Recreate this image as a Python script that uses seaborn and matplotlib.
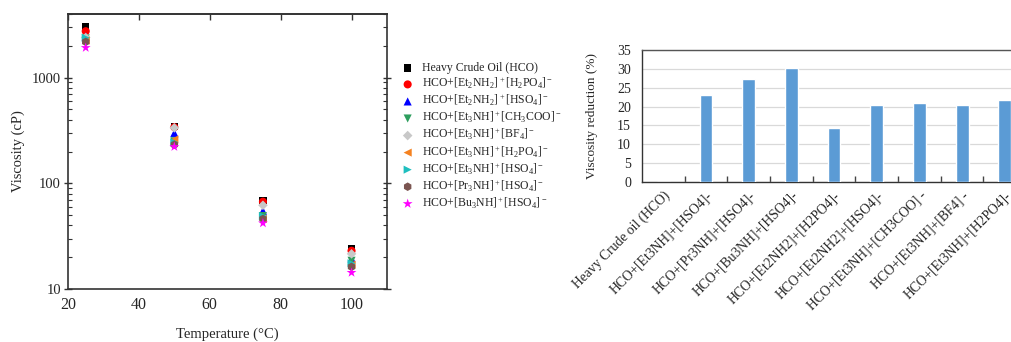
import numpy as np
import pandas as pd
import matplotlib
matplotlib.use("Agg")
import matplotlib.pyplot as plt
from matplotlib.ticker import LogLocator, NullFormatter, FixedLocator
import seaborn as sns

# ---------------- data ----------------
temperatures = [25, 50, 75, 100]

series_labels = [
    "Heavy Crude Oil (HCO)",
    r"HCO+[Et$_2$NH$_2$]$^+$[H$_2$PO$_4$]$^-$",
    r"HCO+[Et$_2$NH$_2$]$^+$[HSO$_4$]$^-$",
    r"HCO+[Et$_3$NH]$^+$[CH$_3$COO]$^-$",
    r"HCO+[Et$_3$NH]$^+$[BF$_4$]$^-$",
    r"HCO+[Et$_3$NH]$^+$[H$_2$PO$_4$]$^-$",
    r"HCO+[Et$_3$NH]$^+$[HSO$_4$]$^-$",
    r"HCO+[Pr$_3$NH]$^+$[HSO$_4$]$^-$",
    r"HCO+[Bu$_3$NH]$^+$[HSO$_4$]$^-$",
]

visc_hco          = [3050, 345, 69, 24]
visc_et2nh2_h2po4 = [2750, 340, 67, 23]
visc_et2nh2_hso4  = [2450, 300, 55, 19.5]
visc_et3nh_ch3coo = [2350, 250, 49, 18.5]
visc_et3nh_bf4    = [2400, 335, 62, 21.5]
visc_et3nh_h2po4  = [2250, 260, 46, 17]
visc_et3nh_hso4   = [2380, 245, 49, 17.5]
visc_pr3nh_hso4   = [2180, 232, 46, 16.2]
visc_bu3nh_hso4   = [1920, 222, 42, 14.3]

viscosity_series = [
    visc_hco, visc_et2nh2_h2po4, visc_et2nh2_hso4, visc_et3nh_ch3coo,
    visc_et3nh_bf4, visc_et3nh_h2po4, visc_et3nh_hso4, visc_pr3nh_hso4,
    visc_bu3nh_hso4,
]

reduction_categories = [
    "Heavy Crude oil (HCO)",
    "HCO+[Et3NH]+[HSO4]-",
    "HCO+[Pr3NH]+[HSO4]-",
    "HCO+[Bu3NH]+[HSO4]-",
    "HCO+[Et2NH2]+[H2PO4]-",
    "HCO+[Et2NH2]+[HSO4]-",
    "HCO+[Et3NH]+[CH3COO] -",
    "HCO+[Et3NH]+[BF4] -",
    "HCO+[Et3NH]+[H2PO4]-",
]
reduction_values = [0, 23.0, 27.3, 30.2, 14.2, 20.3, 21.0, 20.4, 21.8]

# ---------------- style ----------------
sns.set_theme(style="white")
plt.rcParams["font.family"] = ["Liberation Serif", "DejaVu Serif"]
plt.rcParams["mathtext.fontset"] = "custom"
plt.rcParams["mathtext.rm"] = "Liberation Serif"
plt.rcParams["mathtext.it"] = "Liberation Serif:italic"
plt.rcParams["mathtext.bf"] = "Liberation Serif:bold"

markers = ["s", "o", "^", "v", "D", "<", ">", "h", "*"]
colors = ["#000000", "#FF0000", "#0000FF", "#2E9E5E", "#C8C8C8",
          "#F58220", "#1FBFBF", "#7B5551", "#FF00FF"]
sizes = [28, 34, 34, 34, 24, 34, 34, 38, 55]

rows = []
for lab, vals in zip(series_labels, viscosity_series):
    for t, v in zip(temperatures, vals):
        rows.append({"Temperature": t, "Viscosity": v, "Sample": lab})
df_visc = pd.DataFrame(rows)

df_red = pd.DataFrame({"Sample": reduction_categories,
                       "Reduction": reduction_values})

fig = plt.figure(figsize=(10.12, 3.42), dpi=100)

# ---------------- left: viscosity vs temperature ----------------
ax1 = fig.add_axes([0.0672, 0.155, 0.3152, 0.804])
for lab, mk, col, sz in zip(series_labels, markers, colors, sizes):
    sub = df_visc[df_visc["Sample"] == lab]
    sns.scatterplot(data=sub, x="Temperature", y="Viscosity", ax=ax1,
                    marker=mk, color=col, s=sz, edgecolor="none",
                    linewidth=0, label=lab, zorder=3)

ax1.set_yscale("log")
ax1.set_xlim(20, 110)
ax1.set_ylim(10, 4000)
ax1.set_xticks([20, 40, 60, 80, 100])
ax1.yaxis.set_major_locator(FixedLocator([10, 100, 1000]))
ax1.set_yticklabels(["10", "100", "1000"])
ax1.yaxis.set_minor_locator(LogLocator(base=10, subs=np.arange(2, 10)))
ax1.yaxis.set_minor_formatter(NullFormatter())
ax1.tick_params(axis="x", which="major", direction="out", length=4,
                width=1, color="#333333", labelsize=11.5, pad=2)
ax1.tick_params(axis="y", which="major", direction="inout", length=6,
                width=1, color="#333333", left=True, right=True,
                labelsize=10.5, pad=2)
ax1.tick_params(axis="y", which="minor", direction="in", length=3,
                width=0.8, color="#333333", left=True, right=True)
# inward ticks along the top edge
top = ax1.secondary_xaxis("top")
top.set_xticks([20, 40, 60, 80, 100])
top.tick_params(axis="x", direction="in", length=4, width=1,
                color="#333333", labeltop=False)
top.spines["top"].set_color("#333333")
top.spines["top"].set_linewidth(1.2)
for sp in ax1.spines.values():
    sp.set_color("#333333")
    sp.set_linewidth(1.2)
    sp.set_visible(True)
ax1.set_xlabel("Temperature (°C)", fontsize=10.5, labelpad=10)
ax1.set_ylabel("Viscosity (cP)", fontsize=10.5, labelpad=5)

handles, labels = ax1.get_legend_handles_labels()
ax1.get_legend().remove()
fig.legend(handles, labels, loc="upper left",
           bbox_to_anchor=(0.397, 0.818), frameon=False, fontsize=8.5,
           handlelength=1.0, handletextpad=0.7, labelspacing=0.14,
           borderaxespad=0.0, borderpad=0.0)

# ---------------- right: viscosity reduction bars ----------------
ax2 = fig.add_axes([0.6344, 0.468, 0.3796, 0.386])
sns.barplot(data=df_red, x="Sample", y="Reduction", ax=ax2,
            color="#5B9BD5", saturation=1, width=0.3, zorder=3)
ax2.set_xlim(-0.5, 8.5)
ax2.set_ylim(0, 35)
ax2.set_yticks(np.arange(0, 36, 5))
ax2.yaxis.grid(True, color="#D9D9D9", linewidth=0.9, zorder=0)
ax2.xaxis.grid(False)
ax2.set_xlabel("")
ax2.set_ylabel("Viscosity reduction (%)", fontsize=9.5, labelpad=14)
ax2.set_xticks(range(len(reduction_categories)))
ax2.set_xticklabels(reduction_categories, rotation=45, ha="right",
                    rotation_mode="anchor", fontsize=9.8)
ax2.set_xticks(np.arange(0.5, len(reduction_categories), 1.0), minor=True)
ax2.tick_params(axis="x", which="major", length=0, pad=5)
ax2.tick_params(axis="x", which="minor", direction="in", length=4,
                width=1, color="#444444", bottom=True)
ax2.tick_params(axis="y", which="major", length=0, labelsize=10, pad=8)
ax2.spines["left"].set_color("#333333")
ax2.spines["bottom"].set_color("#333333")
ax2.spines["top"].set_color("#555555")
ax2.spines["right"].set_visible(False)
for sp in ("left", "bottom", "top"):
    ax2.spines[sp].set_linewidth(1.0)
    ax2.spines[sp].set_visible(True)

fig.savefig("out.png", dpi=100)
